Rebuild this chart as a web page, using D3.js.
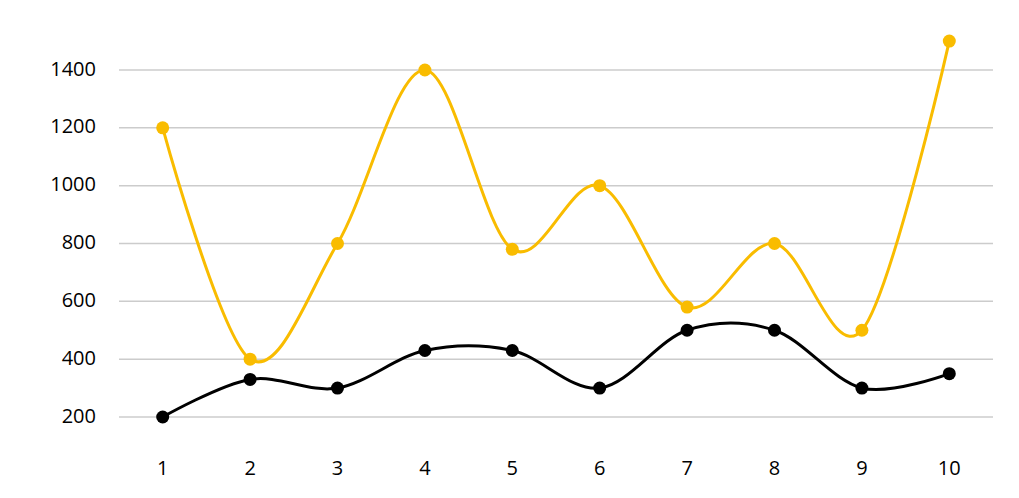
<!DOCTYPE html>
<html>
<head>
<meta charset="utf-8">
<script src="https://cdn.jsdelivr.net/npm/d3@7"></script>
<style>
    body { margin: 0; background: #fff; }
    svg text { font-family: 'Open Sans', 'Noto Sans', sans-serif; font-size: 20px; fill: #000; }
    .grid line { stroke: #ccc; stroke-width: 1.5; }
    .line { fill: none; stroke-width: 3; }
</style>
</head>
<body>
<div id="chart"></div>
<script>
var categories = ['1', '2', '3', '4', '5', '6', '7', '8', '9', '10'];
var yellowValues = [1200, 400, 800, 1400, 780, 1000, 580, 800, 500, 1500];
var blackValues = [200, 330, 300, 430, 430, 300, 500, 500, 300, 350];
var yTicks = [200, 400, 600, 800, 1000, 1200, 1400];

var WIDTH = 1019, HEIGHT = 498;
var LEFT = 119, RIGHT = 993;

var svg = d3.select('#chart').append('svg')
    .attr('width', WIDTH)
    .attr('height', HEIGHT);

var x = d3.scalePoint().domain(categories).range([LEFT, RIGHT]).padding(0.5);
// 200 -> 417px, 1400 -> 70px
var y = d3.scaleLinear().domain([200, 1400]).range([417, 70]);

// gridlines
svg.append('g').attr('class', 'grid')
    .selectAll('line')
    .data(yTicks)
    .enter().append('line')
    .attr('x1', LEFT).attr('x2', RIGHT)
    .attr('y1', function(d) { return y(d); })
    .attr('y2', function(d) { return y(d); });

// y labels
svg.append('g')
    .selectAll('text')
    .data(yTicks)
    .enter().append('text')
    .attr('x', 96)
    .attr('y', function(d) { return y(d) - 1.5; })
    .attr('dy', '0.35em')
    .attr('text-anchor', 'end')
    .text(function(d) { return d; });

// x labels
svg.append('g')
    .selectAll('text')
    .data(categories)
    .enter().append('text')
    .attr('x', function(d) { return x(d); })
    .attr('y', 468)
    .attr('dy', '0.35em')
    .attr('text-anchor', 'middle')
    .text(function(d) { return d; });

var line = d3.line()
    .x(function(d, i) { return x(categories[i]); })
    .y(function(d) { return y(d); })
    .curve(d3.curveCardinal.tension(0));

var series = [
    { values: blackValues, color: '#000000' },
    { values: yellowValues, color: '#f9bc00' }
];

series.forEach(function(s) {
    svg.append('path')
        .attr('class', 'line')
        .attr('stroke', s.color)
        .attr('d', line(s.values));

    svg.append('g')
        .selectAll('circle')
        .data(s.values)
        .enter().append('circle')
        .attr('cx', function(d, i) { return x(categories[i]); })
        .attr('cy', function(d) { return y(d); })
        .attr('r', 6.5)
        .attr('fill', s.color);
});
</script>
</body>
</html>
